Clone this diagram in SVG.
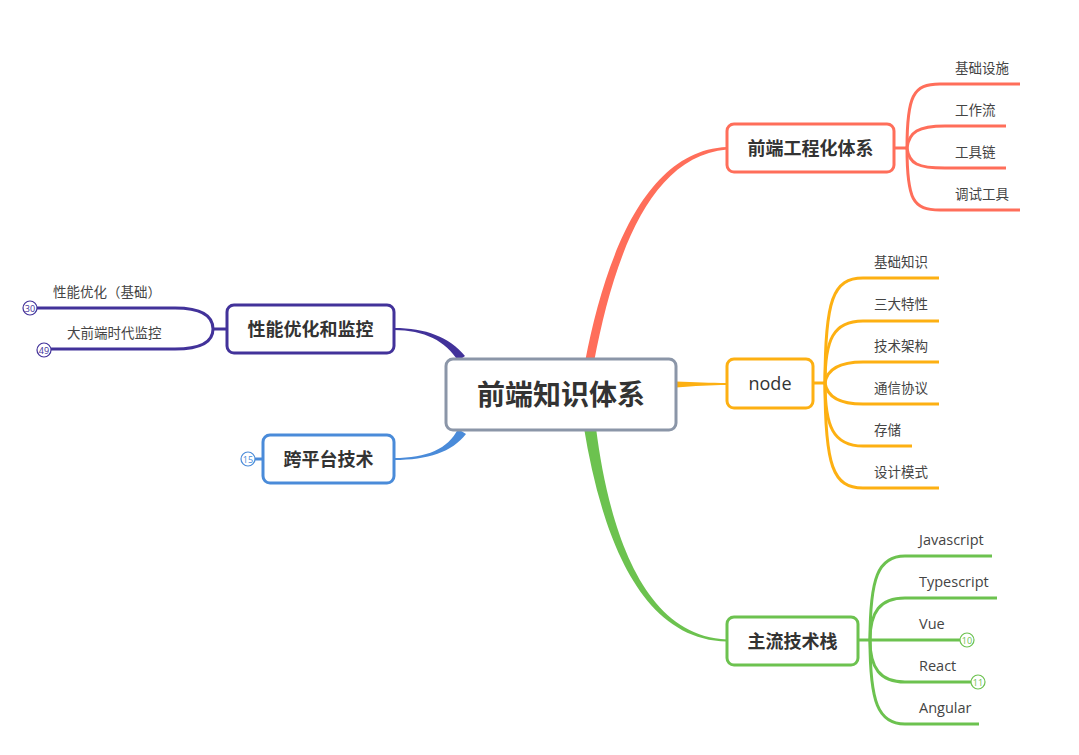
<svg xmlns="http://www.w3.org/2000/svg" width="1079" height="755" viewBox="0 0 1079 755">
<style>
.n{fill:#fff;stroke-width:3}
.t{font-family:"Open Sans","Noto Sans CJK SC",sans-serif;fill:#333}
.nt{font-size:18px;font-weight:bold;text-anchor:middle}
.ct{font-size:13.5px;fill:#444}
.lt{font-size:14.5px}
.br{fill:none;stroke-width:3;stroke-linecap:butt}
.bd{fill:#fff;stroke-width:1.2}
.bt{font-family:"Open Sans",sans-serif;font-size:9px;text-anchor:middle}
</style>
<rect width="1079" height="755" fill="#fff"/>
<g id="connectors">
  <path d="M585,362 C604,262 644,150 727,147 L727,149.5 C648,156 613,262 594,362 Z" fill="#FF6E5A"/>
  <path d="M584,428 C600,525 636,640 727,641.5 L727,639.5 C640,636 608,522 596,428 Z" fill="#6CC24F"/>
  <path d="M676,381.5 C695,382 710,383 727,383 L727,385 C710,385 695,386 676,387.5 Z" fill="#FDB012"/>
  <path d="M394,328 C426,328 449,337 465,356 L458,361 C446,341 424,330 394,330 Z" fill="#42329A"/>
  <path d="M394,458 C427,458 448,449 458,429 L466,434 C452,452 428,460 394,460 Z" fill="#4A8BD9"/>
  <g stroke="#FF6E5A" class="br">
    <path d="M894,148 H907"/>
    <path d="M907,148 C907,96 913,84 940,84 H1020"/>
    <path d="M907,148 C909,132 918,126 945,126 H1006"/>
    <path d="M907,148 C909,164 918,168 945,168 H1006"/>
    <path d="M907,148 C907,200 913,210 940,210 H1020"/>
  </g>
  <g stroke="#FDB012" class="br">
    <path d="M813,383 H825"/>
    <path d="M825,383 C825,300 833,278 863,278 H939"/>
    <path d="M825,383 C825,340 833,321 863,321 H939"/>
    <path d="M825,383 C827,370 838,362 863,362 H939"/>
    <path d="M825,383 C827,396 838,404 863,404 H939"/>
    <path d="M825,383 C825,426 833,446 863,446 H912"/>
    <path d="M825,383 C825,466 833,488 863,488 H939"/>
  </g>
  <g stroke="#6CC24F" class="br">
    <path d="M858,640 H870"/>
    <path d="M870,640 C870,578 878,556 905,556 H992"/>
    <path d="M870,640 C870,612 880,598 905,598 H997"/>
    <path d="M870,640 H960"/>
    <path d="M870,640 C870,668 880,682 905,682 H971"/>
    <path d="M870,640 C870,702 878,724 905,724 H979"/>
  </g>
  <g stroke="#42329A" class="br">
    <path d="M227,329 H213"/>
    <path d="M213,329 C213,315 200,308 175,308 H37"/>
    <path d="M213,329 C213,343 200,349 175,349 H51"/>
  </g>
  <path d="M255,459 H263" stroke="#4A8BD9" class="br"/>
</g>
<g id="center">
  <rect x="446" y="359" width="230" height="71" rx="7" class="n" stroke="#8B96A8"/>
  <text x="561" y="405" class="t" font-size="28" font-weight="bold" text-anchor="middle">前端知识体系</text>
</g>
<g id="n-gongcheng">
  <rect x="727" y="124" width="167" height="48" rx="7" class="n" stroke="#FF6E5A"/>
  <text x="810.5" y="154.5" class="t nt">前端工程化体系</text>
</g>
<g id="n-node">
  <rect x="727" y="359" width="86" height="49" rx="7" class="n" stroke="#FDB012"/>
  <text x="770" y="390" class="t" font-size="18" text-anchor="middle">node</text>
</g>
<g id="n-zhuliu">
  <rect x="727" y="617" width="131" height="48" rx="7" class="n" stroke="#6CC24F"/>
  <text x="792.5" y="647.5" class="t nt">主流技术栈</text>
</g>
<g id="n-xingneng">
  <rect x="227" y="305" width="167" height="48" rx="7" class="n" stroke="#42329A"/>
  <text x="310.5" y="335.5" class="t nt">性能优化和监控</text>
</g>
<g id="n-kuapingtai">
  <rect x="263" y="435" width="131" height="48" rx="7" class="n" stroke="#4A8BD9"/>
  <text x="328.5" y="465.5" class="t nt">跨平台技术</text>
</g>
<g id="c-gongcheng">
  <text x="955" y="73" class="t ct">基础设施</text>
  <text x="955" y="115" class="t ct">工作流</text>
  <text x="955" y="157" class="t ct">工具链</text>
  <text x="955" y="199" class="t ct">调试工具</text>
</g>
<g id="c-node">
  <text x="874" y="267" class="t ct">基础知识</text>
  <text x="874" y="309" class="t ct">三大特性</text>
  <text x="874" y="351" class="t ct">技术架构</text>
  <text x="874" y="393" class="t ct">通信协议</text>
  <text x="874" y="435" class="t ct">存储</text>
  <text x="874" y="477" class="t ct">设计模式</text>
</g>
<g id="c-zhuliu">
  <text x="919" y="545" class="t ct lt">Javascript</text>
  <text x="919" y="587" class="t ct lt">Typescript</text>
  <text x="919" y="629" class="t ct lt">Vue</text>
  <text x="919" y="671" class="t ct lt">React</text>
  <text x="919" y="713" class="t ct lt">Angular</text>
  <circle cx="967" cy="640" r="7" class="bd" stroke="#6CC24F"/>
  <text x="967" y="643.5" class="bt" fill="#6CC24F">10</text>
  <circle cx="978" cy="682" r="7" class="bd" stroke="#6CC24F"/>
  <text x="978" y="685.5" class="bt" fill="#6CC24F">11</text>
</g>
<g id="c-xingneng">
  <text x="53" y="297" class="t ct">性能优化（基础）</text>
  <text x="67" y="338" class="t ct">大前端时代监控</text>
  <circle cx="30" cy="308" r="7" class="bd" stroke="#42329A"/>
  <text x="30" y="311.5" class="bt" fill="#42329A">30</text>
  <circle cx="44" cy="350" r="7" class="bd" stroke="#42329A"/>
  <text x="44" y="353.5" class="bt" fill="#42329A">49</text>
</g>
<g id="c-kuapingtai">
  <circle cx="248" cy="459" r="7" class="bd" stroke="#4A8BD9"/>
  <text x="248" y="462.5" class="bt" fill="#4A8BD9">15</text>
</g>
</svg>
